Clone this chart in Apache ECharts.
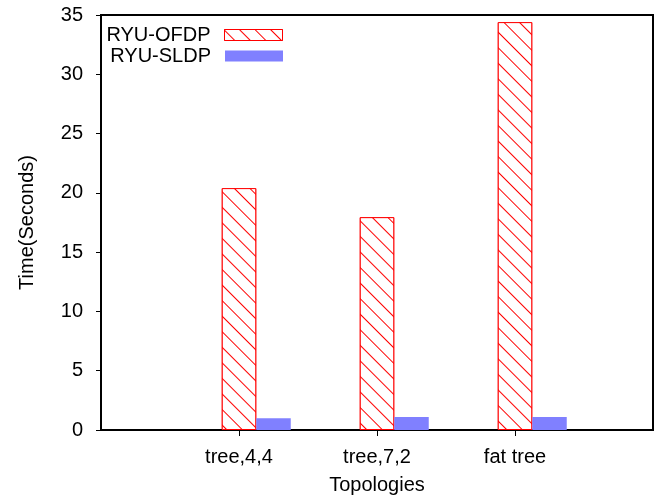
<!DOCTYPE html>
<html>
<head>
<meta charset="utf-8">
<script src="https://cdn.jsdelivr.net/npm/echarts@6/dist/echarts.min.js"></script>
<style>html,body{margin:0;padding:0;background:#fff}#c{width:661px;height:500px}</style>
</head>
<body>
<div id="c"></div>
<script>
const categories = ['tree,4,4', 'tree,7,2', 'fat tree'];
const ofdpValues = [20.4, 17.95, 34.4];
const sldpValues = [1.0, 1.1, 1.1];
const seriesNames = ['RYU-OFDP', 'RYU-SLDP'];
const yTicks = { min: 0, max: 35, interval: 5 };
const xAxisName = 'Topologies';
const yAxisName = 'Time(Seconds)';

// padded category axis: empty slots at both ends
const axisCats = [' ', ...categories, '  '];
const pad = v => [null, ...v, null];

const FONT = "'Liberation Sans', Arial, Helvetica, sans-serif";
const FS = 20;

const hatch = {
  symbol: 'rect',
  symbolSize: 1,
  color: '#ff0000',
  backgroundColor: '#ffffff',
  dashArrayX: [1, 0],
  dashArrayY: [1, 9.6],
  rotation: Math.PI / 4
};

const chart = echarts.init(document.getElementById('c'), null, { renderer: 'canvas' });
const BW = 34.5;
const legendBase = {
  right: 373, align: 'right', icon: 'rect',
  itemWidth: 58, itemHeight: 11, selectedMode: false,
  itemStyle: { borderWidth: 1 },
  textStyle: { fontFamily: FONT, fontSize: FS, color: '#000', padding: [0, 9, 0, 0] }
};
chart.setOption({
  animation: false,
  backgroundColor: '#ffffff',
  textStyle: { fontFamily: FONT, color: '#000' },
  grid: { left: 101, right: 8, top: 15, bottom: 70, show: true, borderColor: '#000', borderWidth: 2, backgroundColor: 'transparent' },
  legend: [
    Object.assign({}, legendBase, { data: [seriesNames[0]], top: 20 }),
    Object.assign({}, legendBase, { data: [seriesNames[1]], top: 41 })
  ],
  xAxis: {
    type: 'category',
    data: axisCats,
    boundaryGap: false,
    name: xAxisName,
    nameLocation: 'middle',
    nameGap: 45,
    nameTextStyle: { fontFamily: FONT, fontSize: FS, color: '#000' },
    axisLine: { lineStyle: { color: '#000', width: 2 } },
    axisTick: { show: true, length: 6, lineStyle: { color: '#000', width: 1 },
      interval: (i) => i > 0 && i < axisCats.length - 1 },
    axisLabel: { fontFamily: FONT, fontSize: FS, color: '#000', margin: 17,
      interval: (i) => i > 0 && i < axisCats.length - 1 },
    splitLine: { show: false }
  },
  yAxis: {
    type: 'value',
    min: yTicks.min, max: yTicks.max, interval: yTicks.interval,
    name: yAxisName,
    nameLocation: 'middle',
    nameGap: 64,
    nameTextStyle: { fontFamily: FONT, fontSize: FS, color: '#000' },
    axisLine: { show: true, lineStyle: { color: '#000', width: 2 } },
    axisTick: { show: true, length: 5, lineStyle: { color: '#000', width: 1 } },
    axisLabel: { fontFamily: FONT, fontSize: FS, color: '#000', margin: 18 },
    splitLine: { show: false }
  },
  series: [
    { name: '_spacer', type: 'bar', data: pad(categories.map(() => null)), barWidth: BW, barGap: '0%', silent: true },
    {
      name: seriesNames[0], type: 'bar', data: pad(ofdpValues), barWidth: BW, barGap: '0%',
      itemStyle: { color: '#ffffff', borderColor: '#ff0000', borderWidth: 1, decal: hatch }
    },
    {
      name: seriesNames[1], type: 'bar', data: pad(sldpValues), barWidth: BW, barGap: '0%',
      itemStyle: { color: '#8080ff' }
    }
  ]
});
</script>
</body>
</html>
